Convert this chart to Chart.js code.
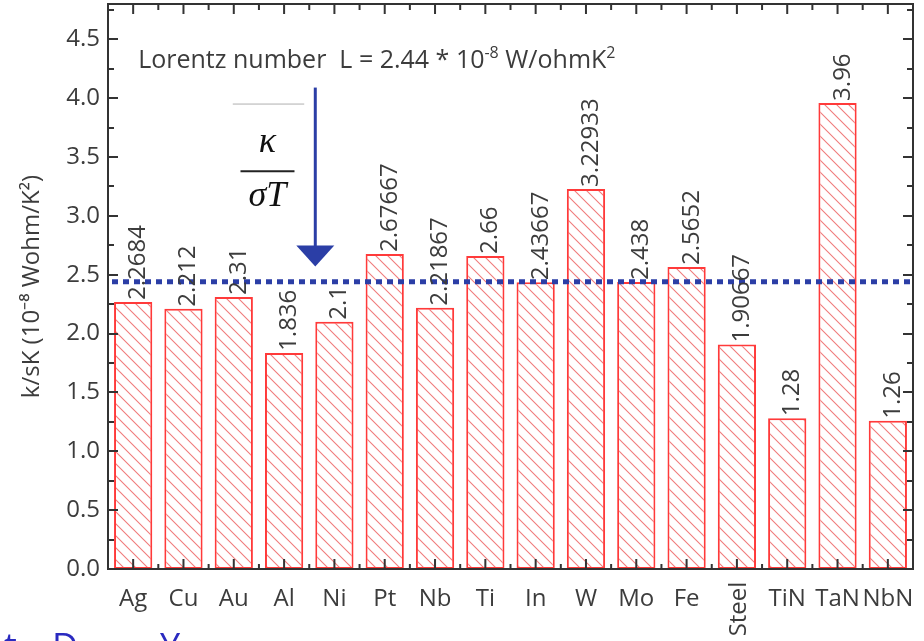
<!DOCTYPE html>
<html>
<head>
<meta charset="utf-8">
<script src="https://cdn.jsdelivr.net/npm/chart.js@4.4.1/dist/chart.umd.min.js"></script>
<style>
  body { margin: 0; background: #fff; }
  #wrap { width: 924px; height: 641px; position: relative; }
</style>
</head>
<body>
<div id="wrap"><canvas id="barChart"></canvas></div>
<script>
// Data
const materials = ['Ag', 'Cu', 'Au', 'Al', 'Ni', 'Pt', 'Nb', 'Ti', 'In', 'W', 'Mo', 'Fe', 'Steel', 'TiN', 'TaN', 'NbN'];
const ratios = [2.2684, 2.212, 2.31, 1.836, 2.1, 2.67667, 2.21867, 2.66, 2.43667, 3.22933, 2.438, 2.5652, 1.90667, 1.28, 3.96, 1.26];
const lorentzNumber = 2.44;
const yMin = 0;
const yMax = 4.8;
const yStep = 0.5;

const textColor = '#3c3c3c';
const barRed = '#ff3a3a';
const blue = '#2b3ea6';
const font = 'Open Sans';

// diagonal hatch fill for the bars
function makeHatch() {
    const c = document.createElement('canvas');
    c.width = 12;
    c.height = 12;
    const g = c.getContext('2d');
    g.fillStyle = '#fff';
    g.fillRect(0, 0, 12, 12);
    g.strokeStyle = 'rgba(238, 110, 110, 0.9)';
    g.lineWidth = 1.1;
    g.beginPath();
    g.moveTo(0, 0); g.lineTo(12, 12);
    g.moveTo(-1, 11); g.lineTo(1, 13);
    g.moveTo(11, -1); g.lineTo(13, 1);
    g.stroke();
    return g.createPattern(c, 'repeat');
}

// frame, ticks, Lorentz line, labels and annotation
const decorPlugin = {
    id: 'decor',
    afterDatasetsDraw(chart) {
        const ctx = chart.ctx;
        const area = chart.chartArea;
        const x = chart.scales.x;
        const y = chart.scales.y;
        ctx.save();

        // dotted Lorentz number line
        const ly = y.getPixelForValue(lorentzNumber);
        ctx.strokeStyle = blue;
        ctx.lineWidth = 5;
        ctx.setLineDash([6, 5]);
        ctx.beginPath();
        ctx.moveTo(area.left + 4, ly);
        ctx.lineTo(area.right, ly);
        ctx.stroke();
        ctx.setLineDash([]);

        // value labels above the bars
        ctx.fillStyle = textColor;
        ctx.font = '24px "' + font + '"';
        ctx.textAlign = 'left';
        ctx.textBaseline = 'alphabetic';
        ratios.forEach((v, i) => {
            const px = x.getPixelForValue(i);
            const py = y.getPixelForValue(v);
            ctx.save();
            ctx.translate(px + 12, py - 2);
            ctx.rotate(-Math.PI / 2);
            ctx.fillText(String(v), 0, 0);
            ctx.restore();
        });

        // frame
        ctx.strokeStyle = '#333';
        ctx.lineWidth = 2;
        ctx.strokeRect(area.left, area.top, area.right - area.left, area.bottom - area.top);

        // y ticks on both sides
        for (let v = yMin; v <= yMax + 1e-9; v += yStep / 2) {
            const py = Math.round(y.getPixelForValue(v));
            const major = Math.abs(v / yStep - Math.round(v / yStep)) < 1e-6;
            const len = major ? 10 : 6;
            ctx.beginPath();
            ctx.moveTo(area.left, py); ctx.lineTo(area.left + len, py);
            ctx.moveTo(area.right, py); ctx.lineTo(area.right - len, py);
            ctx.stroke();
        }
        // x ticks top and bottom
        for (let i = 0; i < materials.length; i++) {
            const pc = x.getPixelForValue(i);
            ctx.beginPath();
            ctx.moveTo(pc, area.bottom); ctx.lineTo(pc, area.bottom - 10);
            ctx.moveTo(pc, area.top); ctx.lineTo(pc, area.top + 10);
            if (i > 0) {
                const pb = (pc + x.getPixelForValue(i - 1)) / 2;
                ctx.moveTo(pb, area.bottom); ctx.lineTo(pb, area.bottom - 5);
                ctx.moveTo(pb, area.top); ctx.lineTo(pb, area.top + 6);
            }
            ctx.stroke();
        }

        // category labels (Steel is written vertically)
        ctx.fillStyle = textColor;
        ctx.font = '24px "' + font + '"';
        materials.forEach((m, i) => {
            const px = x.getPixelForValue(i);
            if (m === 'Steel') {
                ctx.save();
                ctx.translate(px + 9, area.bottom + 40);
                ctx.rotate(-Math.PI / 2);
                ctx.textAlign = 'center';
                ctx.textBaseline = 'alphabetic';
                ctx.fillText(m, 0, 0);
                ctx.restore();
            } else {
                ctx.textAlign = 'center';
                ctx.textBaseline = 'alphabetic';
                ctx.fillText(m, px, area.bottom + 37);
            }
        });

        // Lorentz number text
        ctx.textAlign = 'left';
        ctx.textBaseline = 'alphabetic';
        let tx = x.getPixelForValue(0.1);
        const ty = y.getPixelForValue(4.26);
        const parts = [
            ['Lorentz number  L = 2.44 * 10', 25, 0],
            ['-8', 16, -10],
            [' W/ohmK', 25, 0],
            ['2', 16, -10]
        ];
        parts.forEach(([t, size, dy]) => {
            ctx.font = size + 'px "' + font + '"';
            ctx.fillText(t, tx, ty + dy);
            tx += ctx.measureText(t).width;
        });

        // thin grey line
        ctx.strokeStyle = '#b0b0b0';
        ctx.lineWidth = 1;
        ctx.beginPath();
        ctx.moveTo(x.getPixelForValue(1.98), y.getPixelForValue(3.95));
        ctx.lineTo(x.getPixelForValue(3.4), y.getPixelForValue(3.95));
        ctx.stroke();

        // kappa / sigma T
        const fx = x.getPixelForValue(2.67);
        ctx.fillStyle = '#111';
        ctx.textAlign = 'center';
        ctx.font = 'italic 36px "Liberation Serif"';
        ctx.fillText('\u03BA', fx, y.getPixelForValue(3.54));
        ctx.fillText('\u03C3T', fx, y.getPixelForValue(3.08));
        ctx.strokeStyle = '#222';
        ctx.lineWidth = 2;
        ctx.beginPath();
        ctx.moveTo(fx - 27, y.getPixelForValue(3.38));
        ctx.lineTo(fx + 27, y.getPixelForValue(3.38));
        ctx.stroke();

        // arrow
        const ax = x.getPixelForValue(3.62);
        const aTop = y.getPixelForValue(4.09);
        const aTip = y.getPixelForValue(2.57);
        ctx.strokeStyle = blue;
        ctx.fillStyle = blue;
        ctx.lineWidth = 3;
        ctx.beginPath();
        ctx.moveTo(ax, aTop);
        ctx.lineTo(ax, aTip - 15);
        ctx.stroke();
        ctx.beginPath();
        ctx.moveTo(ax - 19, aTip - 21);
        ctx.lineTo(ax + 19, aTip - 21);
        ctx.lineTo(ax, aTip);
        ctx.closePath();
        ctx.fill();

        // clipped blue text at the very bottom
        ctx.fillStyle = '#2a2ac0';
        ctx.font = '36px "' + font + '"';
        ctx.textAlign = 'left';
        ctx.fillText('t', 4, 659);
        ctx.fillText('D', 52, 659);
        ctx.fillText('Y', 160, 659);

        ctx.restore();
    }
};

const ctx = document.getElementById('barChart').getContext('2d');
const chart = new Chart(ctx, {
    type: 'bar',
    data: {
        labels: materials,
        datasets: [{
            label: 'k/sK',
            data: ratios,
            backgroundColor: makeHatch(),
            borderColor: barRed,
            borderWidth: 2,
            borderSkipped: false,
            barPercentage: 0.76,
            categoryPercentage: 1.0
        }]
    },
    options: {
        responsive: true,
        maintainAspectRatio: false,
        animation: false,
        layout: { padding: { top: 4, right: 11, left: 0, bottom: 0 } },
        plugins: {
            legend: { display: false },
            tooltip: { enabled: false }
        },
        scales: {
            x: {
                grid: { display: false, drawTicks: false },
                border: { display: false },
                ticks: { display: false },
                afterFit: s => {
                    s.height = 72;
                    s.paddingLeft = 0;
                    s.paddingRight = 0;
                }
            },
            y: {
                min: yMin,
                max: yMax,
                grid: { display: false, drawTicks: false },
                border: { display: false },
                ticks: {
                    stepSize: yStep,
                    includeBounds: false,
                    padding: 8,
                    color: textColor,
                    font: { family: font, size: 24 },
                    callback: v => v.toFixed(1)
                },
                title: {
                    display: true,
                    text: 'k/sK (10\u207B\u2078 Wohm/K\u00B2)',
                    color: textColor,
                    font: { family: font, size: 24 },
                    padding: { top: 18, bottom: 0 }
                },
                afterFit: s => {
                    s.width = 108;
                    s.paddingTop = 0;
                    s.paddingBottom = 0;
                }
            }
        }
    },
    plugins: [decorPlugin]
});
</script>
</body>
</html>
